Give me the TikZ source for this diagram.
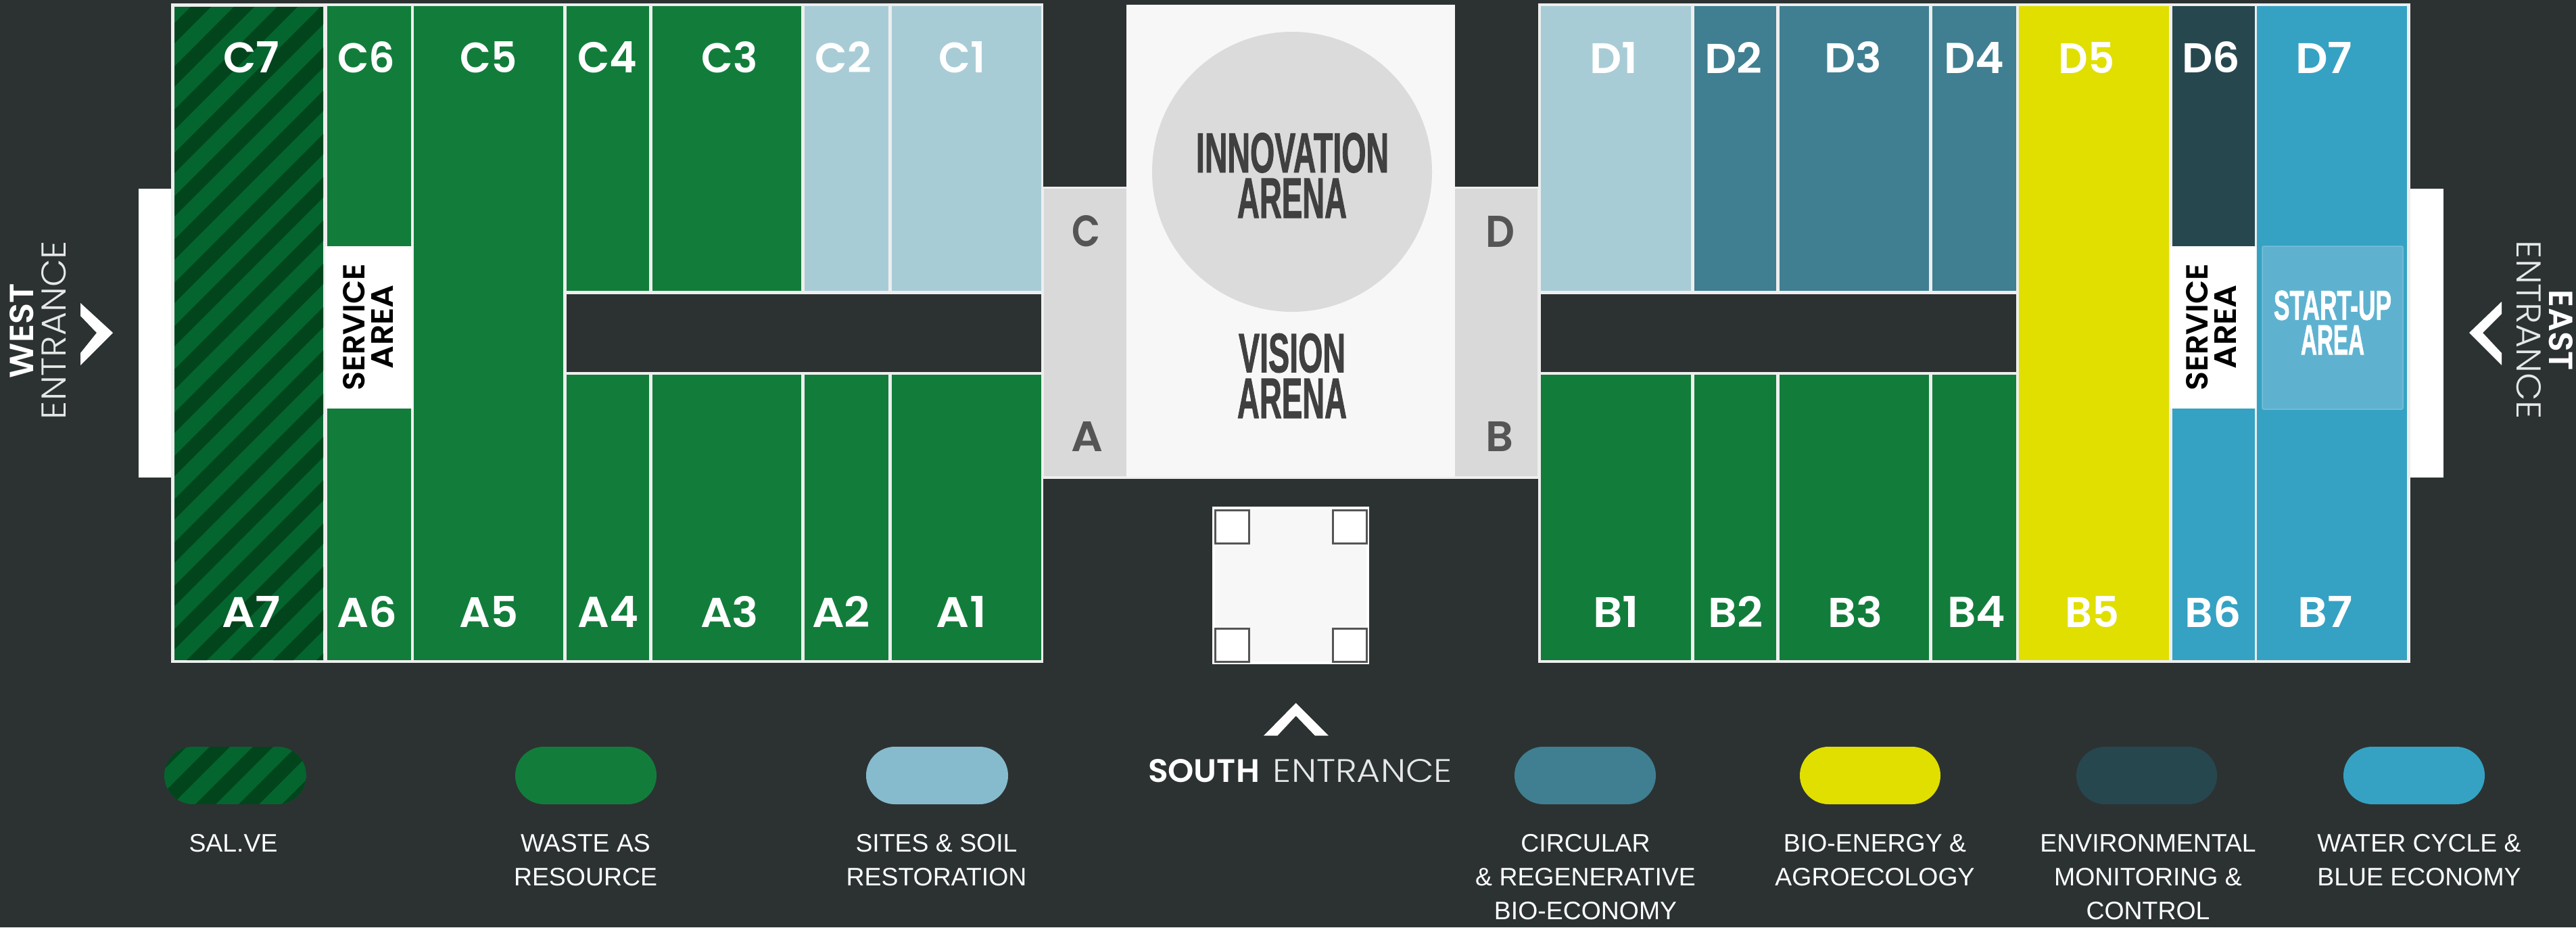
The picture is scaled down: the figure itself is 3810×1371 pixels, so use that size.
\documentclass[tikz,border=0pt]{standalone}
\usepackage{graphicx}
\usepackage{fontspec}
\setmainfont{Liberation Sans}
\newfontfamily\mont{Poppins SemiBold}
\newfontfamily\montl{Poppins Light}
\newfontfamily\bebas[FakeBold=1.6]{Liberation Sans Bold}
\definecolor{bg}{HTML}{2C3232}
\definecolor{line}{HTML}{EEEEEE}
\definecolor{grn}{HTML}{127D3B}
\definecolor{salA}{HTML}{05652F}
\definecolor{salB}{HTML}{02451C}
\definecolor{sky}{HTML}{A8CCD6}
\definecolor{skyL}{HTML}{86BBCE}
\definecolor{teal}{HTML}{3F7F91}
\definecolor{yel}{HTML}{E0DF00}
\definecolor{envi}{HTML}{27474F}
\definecolor{wat}{HTML}{35A2C3}
\definecolor{startup}{HTML}{5EB2D0}
\definecolor{pale}{HTML}{F7F7F7}
\definecolor{gry}{HTML}{D9D9D9}
\definecolor{arena}{HTML}{404040}
\definecolor{letter}{HTML}{555555}
\tikzset{
  txt/.style={inner sep=0pt,outer sep=0pt,anchor=center},
  lbl/.style={txt,text=white,font=\mont},
  glbl/.style={txt,text=letter,font=\mont},
  are/.style={txt,text=arena,font=\bebas},
  sta/.style={txt,text=white,font=\bebas},
  srv/.style={txt,text=black,font=\mont,rotate=90},
  lgd/.style={inner sep=0pt,outer sep=0pt,anchor=north,align=center,text=white,font=\fontsize{37.4}{50}\selectfont},
  pill/.style={rounded corners=42.4pt},
  entb/.style={txt,text=white,font=\mont},
  entl/.style={txt,text=white!88!bg,font=\montl},
}
\newcommand\fitb[3]{\resizebox{#1pt}{#2pt}{#3}}
\newcommand\cl[6][lbl]{\node[#1] (#2) at (#3,#4) {\fitb{#5}{46}{#6}};}
\newcommand\lgstrut{\rule{0pt}{28pt}}
\begin{document}
\begin{tikzpicture}[x=1pt,y=-1pt]
\useasboundingbox (0,0) rectangle (3810,1371);
\fill[bg] (0,0) rectangle (3810,1371);
% entrances
\fill[white] (205,279) rectangle (254,706);
\fill[white] (3564,279) rectangle (3614,706);
% frames
\fill[line] (253,5) rectangle (1543,980);
\fill[line] (2275,5) rectangle (3565,980);
% west block
\begin{scope}
\clip (258,10) rectangle (478,976);
\fill[salA] (258,10) rectangle (478,976);
\foreach \c in {292,356,...,1444}
  \fill[salB] ({\c-10},10) -- ({\c+20},10) -- ({\c+30-976},976) -- ({\c-976},976) -- cycle;
\end{scope}
\fill[grn] (484,9) rectangle (608,364);
\fill[white] (481,364) rectangle (610,604);
\fill[grn] (484,604) rectangle (608,976);
\fill[grn] (612,9) rectangle (833,976);
\fill[grn] (838,9) rectangle (960,430);
\fill[grn] (965,9) rectangle (1185,430);
\fill[sky] (1190,9) rectangle (1314,430);
\fill[sky] (1319,9) rectangle (1540,430);
\fill[bg] (838,435) rectangle (1540,550);
\fill[grn] (838,554) rectangle (960,976);
\fill[grn] (965,554) rectangle (1185,976);
\fill[grn] (1190,554) rectangle (1314,976);
\fill[grn] (1319,554) rectangle (1540,976);
% east block
\fill[sky] (2279,9) rectangle (2501,430);
\fill[teal] (2506,9) rectangle (2627,430);
\fill[teal] (2632,9) rectangle (2853,430);
\fill[teal] (2858,9) rectangle (2982,430);
\fill[bg] (2279,435) rectangle (2982,550);
\fill[grn] (2279,554) rectangle (2501,976);
\fill[grn] (2506,554) rectangle (2627,976);
\fill[grn] (2632,554) rectangle (2853,976);
\fill[grn] (2858,554) rectangle (2982,976);
\fill[yel] (2986,9) rectangle (3208,976);
\fill[envi] (3213,9) rectangle (3335,364);
\fill[white] (3210,364) rectangle (3337,604);
\fill[wat] (3213,604) rectangle (3335,976);
\fill[wat] (3338,9) rectangle (3560,976);
\fill[startup,draw=startup!85!white,line width=1.5pt,rounded corners=2pt] (3346,364) rectangle (3554,605);
% centre
\fill[bg] (1543,0) rectangle (2275,1000);
\fill[line] (1541,276) rectangle (2277,708);
\fill[gry] (1544,279) rectangle (1666,704);
\fill[gry] (2152,279) rectangle (2274,704);
\fill[pale] (1666,7) rectangle (2152,705);
\fill[gry!95!white] (1911,254) circle[radius=207];
\node[are] (innov) at (1911.5,226) {\fitb{285}{58}{INNOVATION}};
\node[are] (arena1) at (1911,293) {\fitb{162}{58}{ARENA}};
\node[are] (vision) at (1911,522) {\fitb{158}{57}{VISION}};
\node[are] (arena2) at (1911,589) {\fitb{162}{58}{ARENA}};
\node[glbl] (C) at (1606,342) {\fitb{42}{46}{C}};
\node[glbl] (A) at (1607.5,645) {\fitb{47}{44}{A}};
\node[glbl] (D) at (2218.5,342) {\fitb{43}{46}{D}};
\node[glbl] (B) at (2217.5,645) {\fitb{41}{44}{B}};
% south pavilion
\fill[white] (1793,749) rectangle (2025,982);
\fill[pale] (1797,753) rectangle (2021,978);
\foreach \x/\y in {1796/753,1970/753,1796/928,1970/928}
  \draw[letter,fill=white,line width=3.5pt] ({\x+1.7},{\y+1.7}) rectangle ({\x+51.5},{\y+50.5});
% cell labels
\cl{C7}{372}{85}{83}{C7}
\cl{C6}{542}{85}{85}{C6}
\cl{C5}{723}{85}{84}{C5}
\cl{C4}{898}{85}{88}{C4}
\cl{C3}{1079}{85}{83}{C3}
\cl{C2}{1247}{85}{83}{C2}
\cl{C1}{1423}{85}{69}{C1}
\cl{A7}{372}{904.5}{86}{A7}
\cl{A6}{543}{904.5}{89}{A6}
\cl{A5}{723}{904.5}{87}{A5}
\cl{A4}{900}{904.5}{90}{A4}
\cl{A3}{1079}{904.5}{86}{A3}
\cl{A2}{1244}{904.5}{86}{A2}
\cl{A1}{1422}{904.5}{74}{A1}
\cl{D1}{2387}{85}{71}{D1}
\cl{D2}{2564}{85}{85}{D2}
\cl{D3}{2741}{85}{85}{D3}
\cl{D4}{2920}{85}{89}{D4}
\cl{D5}{3086}{85}{83}{D5}
\cl{D6}{3270}{85}{86}{D6}
\cl{D7}{3437}{85}{84}{D7}
\cl{B1}{2390}{904.5}{68}{B1}
\cl{B2}{2567}{904.5}{81}{B2}
\cl{B3}{2744}{904.5}{81}{B3}
\cl{B4}{2923}{904.5}{86}{B4}
\cl{B5}{3094}{904.5}{80}{B5}
\cl{B6}{3273}{904.5}{83}{B6}
\cl{B7}{3439}{904.5}{81}{B7}
% service / start-up
\node[srv] (servW) at (524,483.5) {\fitb{187}{32}{SERVICE}};
\node[srv] (areaW) at (565,483) {\fitb{124}{32}{AREA}};
\node[srv] (servE) at (3249.5,483.5) {\fitb{187}{32}{SERVICE}};
\node[srv] (areaE) at (3291.5,483) {\fitb{124}{32}{AREA}};
\node[sta] (start) at (3450,451.5) {\fitb{174}{43}{START-UP}};
\node[sta] (areaS) at (3450,502.5) {\fitb{94}{43}{AREA}};
% west entrance
\node[entb,rotate=90] (west) at (32.5,489) {\fitb{140}{35}{WEST}};
\node[entl,rotate=90] (entW) at (80,488) {\fitb{264}{36}{ENTRANCE}};
\fill[white] (119,448) -- (167,492) -- (119,540) -- (119,522) -- (143,492) -- (119,467) -- cycle;
% east entrance
\node[entb,rotate=-90] (east) at (3787.5,488.5) {\fitb{119}{35}{EAST}};
\node[entl,rotate=-90] (entE) at (3740.5,488) {\fitb{264}{36}{ENTRANCE}};
\fill[white] (3700,446) -- (3652,492) -- (3700,540) -- (3700,522) -- (3672,492) -- (3700,464) -- cycle;
% south entrance
\fill[white] (1916.7,1039.3) -- (1965,1087.7) -- (1945,1087.7) -- (1916.7,1058.3) -- (1889.3,1087.7) -- (1869,1087.7) -- cycle;
\node[entb] (south) at (1780.5,1140) {\fitb{165}{34}{SOUTH}};
\node[entl] (entS) at (2015.5,1140) {\fitb{265}{34}{ENTRANCE}};
% legend pills
\begin{scope}
\clip[pill] (243,1104) rectangle (453,1189);
\fill[salA] (243,1104) rectangle (453,1189);
\foreach \c in {1350,1414,...,1670}
  \fill[salB] ({\c-1104},1104) -- ({\c+30-1104},1104) -- ({\c+30-1189},1189) -- ({\c-1189},1189) -- cycle;
\end{scope}
\fill[grn,pill] (762,1104) rectangle (971,1189);
\fill[skyL,pill] (1281,1104) rectangle (1491,1189);
\fill[teal,pill] (2240,1104) rectangle (2449,1189);
\fill[yel,pill] (2662,1104) rectangle (2870,1189);
\fill[envi,pill] (3071,1104) rectangle (3279,1189);
\fill[wat,pill] (3466,1104) rectangle (3675,1189);
% legend text
\node[lgd] (lg1) at (345,1231.5) {\lgstrut SAL.VE};
\node[lgd] (lg2) at (866,1231.5) {\lgstrut WASTE AS\\RESOURCE};
\node[lgd] (lg3) at (1385,1231.5) {\lgstrut SITES \& SOIL\\RESTORATION};
\node[lgd] (lg4) at (2345,1231.5) {\lgstrut CIRCULAR\\\& REGENERATIVE\\BIO-ECONOMY};
\node[lgd] (lg5) at (2773,1231.5) {\lgstrut BIO-ENERGY \&\\AGROECOLOGY};
\node[lgd] (lg6) at (3177,1231.5) {\lgstrut ENVIRONMENTAL\\MONITORING \&\\CONTROL};
\node[lgd] (lg7) at (3578,1231.5) {\lgstrut WATER CYCLE \&\\BLUE ECONOMY};
\end{tikzpicture}
\end{document}
